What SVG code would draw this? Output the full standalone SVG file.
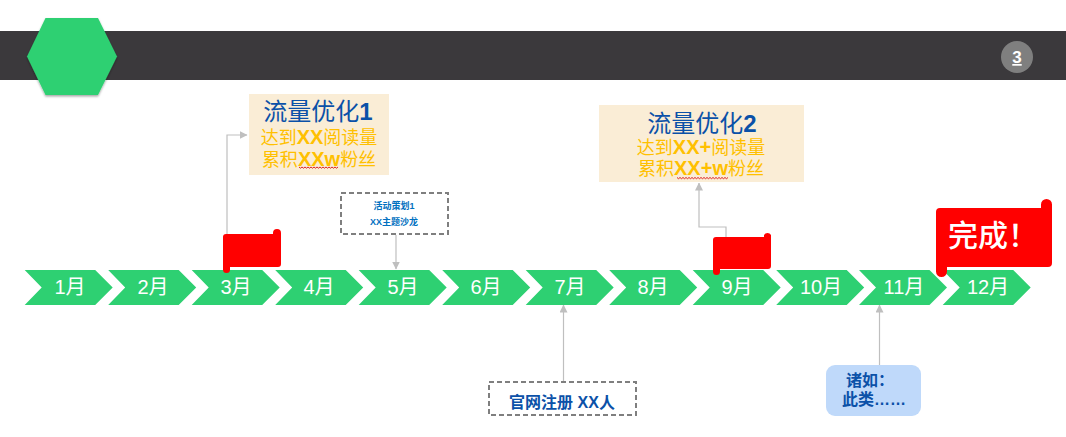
<svg xmlns="http://www.w3.org/2000/svg" width="1066" height="437" viewBox="0 0 1066 437">
<defs>
<filter id="sh" x="-10%" y="-10%" width="120%" height="120%"><feDropShadow dx="0" dy="1.5" stdDeviation="1.2" flood-color="#000" flood-opacity="0.35"/></filter>
<marker id="arr" markerWidth="8" markerHeight="8" refX="7.500" refY="4" orient="auto" markerUnits="userSpaceOnUse" viewBox="0 0 8 8"><path d="M0 0L8 4L0 8Z" fill="#bfbfbf"/></marker>
<path id="chev" d="M0 0H70.500L88 17.500L70.500 35H0L17 17.500Z" fill="#2ed072"/>
</defs>
<style>
text{font-family:"Liberation Sans","Noto Sans CJK SC",sans-serif;text-anchor:middle}
.m{font-size:20px;fill:#fff}
.t{font-size:24px;fill:#0b51a8}
.yl{font-size:18px;fill:#ffc000}
.la{font-size:20px;font-weight:700}
.b{font-weight:700}
.c{fill:none;stroke:#bfbfbf;stroke-width:1.200}
.d{fill:#fff;stroke:#7f7f7f;stroke-width:2;stroke-dasharray:5 3}
.note{fill:#faedd6}
.f{fill:#f00}
.sq{fill:none;stroke:#d22;stroke-width:1}
.e{font-size:9px;font-weight:700;fill:#0070c0}
.n{font-size:16px;font-weight:700;fill:#0b51a8}
</style>
<g id="header">
<rect x="0" y="31" width="1066" height="49" fill="#3b393c"/>
<circle cx="1017" cy="57" r="16" fill="#7f7f7f"/>
<text x="1017" y="63" font-size="17" font-weight="700" fill="#fff" text-decoration="underline">3</text>
</g>
<g id="hexagon"><path d="M27 56.500L45.500 18H98L117 56.500L98 95H45.500Z" fill="#2ed072" filter="url(#sh)"/></g>
<g id="connectors">
<path class="c" d="M227 236V135H247" marker-end="url(#arr)"/>
<path class="c" d="M396 235V269" marker-end="url(#arr)"/>
<path class="c" d="M726 237V227H699V183" marker-end="url(#arr)"/>
<path class="c" d="M563.500 381V305" marker-end="url(#arr)"/>
<path class="c" d="M879.500 365V305" marker-end="url(#arr)"/>
</g>
<g id="m1"><use href="#chev" x="24.700" y="270"/><text class="m" x="70" y="294">1月</text></g>
<g id="m2"><use href="#chev" x="108.200" y="270"/><text class="m" x="153" y="294">2月</text></g>
<g id="m3"><use href="#chev" x="191.700" y="270"/><text class="m" x="236" y="294">3月</text></g>
<g id="m4"><use href="#chev" x="275.200" y="270"/><text class="m" x="319" y="294">4月</text></g>
<g id="m5"><use href="#chev" x="358.700" y="270"/><text class="m" x="403" y="294">5月</text></g>
<g id="m6"><use href="#chev" x="442.200" y="270"/><text class="m" x="486" y="294">6月</text></g>
<g id="m7"><use href="#chev" x="525.700" y="270"/><text class="m" x="570" y="294">7月</text></g>
<g id="m8"><use href="#chev" x="609.200" y="270"/><text class="m" x="653" y="294">8月</text></g>
<g id="m9"><use href="#chev" x="692.700" y="270"/><text class="m" x="737" y="294">9月</text></g>
<g id="m10"><use href="#chev" x="776.200" y="270"/><text class="m" x="821" y="294">10月</text></g>
<g id="m11"><use href="#chev" x="859" y="270"/><text class="m" x="904" y="294">11月</text></g>
<g id="m12"><use href="#chev" x="942.700" y="270"/><text class="m" x="988" y="294">12月</text></g>
<g id="flag1"><path class="f" d="M226 234H273V233A4 4 0 0 1 281 233V264A3 3 0 0 1 278 267H230V269.500A3.500 3.500 0 0 1 223 269.500V237A3 3 0 0 1 226 234Z"/></g>
<g id="flag2"><path class="f" d="M716 237H764V235A4 4 0 0 1 771 235V266A3 3 0 0 1 768 269H720V271.500A3.500 3.500 0 0 1 713 271.500V240A3 3 0 0 1 716 237Z"/></g>
<g id="flag3"><path class="f" d="M940 208H1041V204.500A5.500 5.500 0 0 1 1052 204.500V263A4 4 0 0 1 1048 267H947V271.500A5.500 5.500 0 0 1 936 271.500V212A4 4 0 0 1 940 208Z"/><text x="993" y="246" font-size="30" font-weight="500" fill="#fff">完成！</text></g>
<g id="note1">
<rect class="note" x="249" y="94" width="140" height="81"/>
<text class="t" x="318" y="120">流量优化<tspan class="b">1</tspan></text>
<text class="yl" x="319" y="144">达到<tspan class="la">XX</tspan>阅读量</text>
<text class="yl" x="319" y="166">累积<tspan class="la">XXw</tspan>粉丝</text>
<path class="sq" d="M299 167l1.500 1.200l1.500-1.200l1.500 1.200l1.500-1.200l1.500 1.200l1.500-1.200l1.500 1.200l1.500-1.200l1.500 1.200l1.500-1.200l1.500 1.200l1.500-1.200l1.500 1.200l1.500-1.200l1.500 1.200l1.500-1.200l1.500 1.200l1.500-1.200l1.500 1.200l1.500-1.200l1.500 1.200l1.500-1.200l1.500 1.200l1.500-1.200l1.500 1.200l1.500-1.200"/>
</g>
<g id="note2">
<rect class="note" x="599" y="105" width="205" height="77"/>
<text class="t" x="702" y="132">流量优化<tspan class="b">2</tspan></text>
<text class="yl" x="701" y="154">达到<tspan class="la">XX+</tspan>阅读量</text>
<text class="yl" x="701" y="175">累积<tspan class="la">XX+w</tspan>粉丝</text>
<path class="sq" d="M677 177.500l1.500 1.200l1.500-1.200l1.500 1.200l1.500-1.200l1.500 1.200l1.500-1.200l1.500 1.200l1.500-1.200l1.500 1.200l1.500-1.200l1.500 1.200l1.500-1.200l1.500 1.200l1.500-1.200l1.500 1.200l1.500-1.200l1.500 1.200l1.500-1.200l1.500 1.200l1.500-1.200l1.500 1.200l1.500-1.200l1.500 1.200l1.500-1.200l1.500 1.200l1.500-1.200l1.500 1.200l1.500-1.200l1.500 1.200l1.500-1.200l1.500 1.200l1.500-1.200l1.500 1.200l1.500-1.200"/>
</g>
<g id="event1">
<rect class="d" x="341" y="193" width="107" height="41"/>
<text class="e" x="394" y="209">活动策划1</text>
<text class="e" x="394" y="225">XX主题沙龙</text>
</g>
<g id="event2">
<rect class="d" x="489" y="382" width="147" height="33"/>
<text class="n" x="562" y="408">官网注册 XX人</text>
</g>
<g id="note3">
<rect x="826" y="365" width="95" height="51" rx="9" fill="#bfd9fa"/>
<text class="n" x="870" y="386">诸如：</text>
<text class="n" x="874" y="405">此类……</text>
</g>
</svg>
